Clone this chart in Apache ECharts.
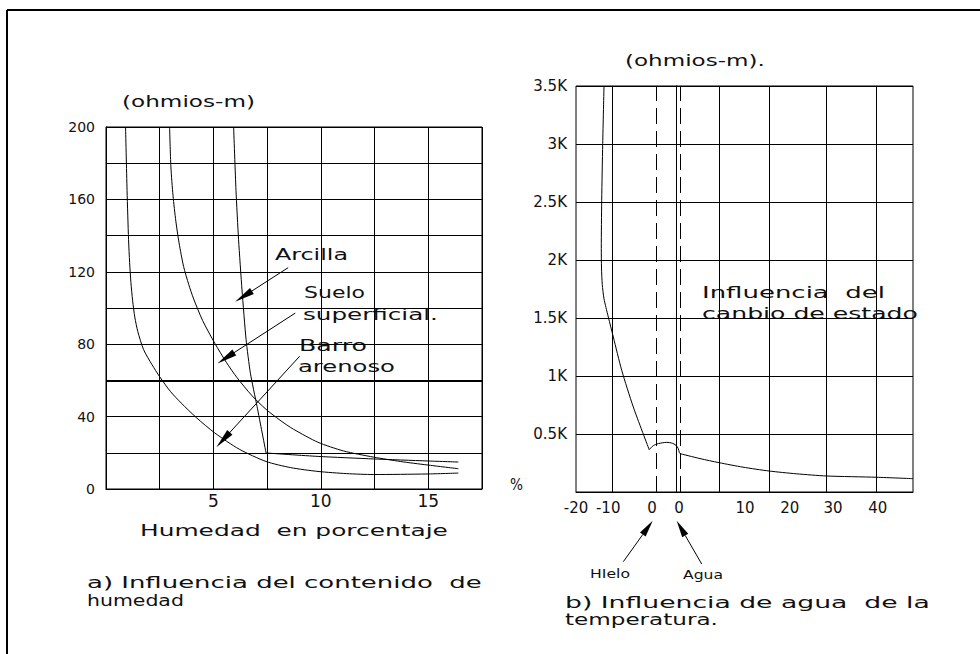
<!DOCTYPE html>
<html>
<head>
<meta charset="utf-8">
<script src="https://cdn.jsdelivr.net/npm/echarts@6/dist/echarts.min.js"></script>
<style>
  html, body { margin: 0; padding: 0; background: #fff; }
  #chart { width: 980px; height: 654px; }
</style>
</head>
<body>
<div id="chart"></div>
<script>
// ---------- a) Resistividad frente a humedad (%) ----------
const arcillaSteep = [[5.94, 200], [6.05, 165], [6.17, 137.7], [6.33, 110], [6.52, 82.5], [6.72, 64], [7.03, 45.6], [7.26, 31.5], [7.45, 19.9]];
const arcillaFlat = [[7.45, 19.9], [9.87, 18], [12.46, 16.6], [14.94, 15.5], [16.4, 14.9]];
const sueloSuperficial = [[2.96, 200], [3.02, 178], [3.12, 162], [3.25, 148], [3.4, 136], [3.61, 123], [3.85, 113], [4.08, 105], [4.5, 93], [5.06, 80.6], [5.6, 70], [6.1, 61.5], [6.8, 51.5], [7.45, 44], [8.1, 38], [8.73, 33], [9.87, 25.8], [11.06, 21], [12.46, 17.6], [13.7, 15.2], [14.94, 13.3], [16.4, 11.2]];
const barroArenoso = [[0.91, 200], [0.98, 165], [1.05, 137.7], [1.1, 125], [1.16, 114], [1.24, 104], [1.34, 95], [1.48, 87], [1.75, 77], [2.14, 68.7], [2.5, 62], [2.99, 54], [3.5, 47.5], [4.2, 39.5], [5.06, 31], [6.2, 22], [7.45, 15.2], [8.6, 11.8], [9.87, 9.7], [11.2, 8.5], [12.46, 8.0], [14.94, 8.3], [16.4, 8.8]];
const humedadLabels = [5, 10, 15];
const resistLabelStep = 40;

// ---------- b) Resistividad frente a temperatura ----------
const tempIce = [[-14.43, 3500], [-14.69, 3003], [-14.89, 2515], [-14.97, 2100], [-14.93, 1930], [-14.78, 1790], [-14.45, 1670], [-14.04, 1590], [-13.58, 1509], [-12.58, 1336], [-10.91, 1049], [-8.61, 733], [-5.45, 365]];
const tempThaw = [[-5.45, 365], [-4.63, 400], [-3.64, 417], [-1.97, 428], [-0.97, 422], [-0.12, 403], [0.34, 374], [0.54, 340], [0.68, 331]];
const tempWater = [[0.68, 331], [4.65, 288], [8.43, 253], [13.2, 214], [18.37, 181], [23.8, 157], [29.84, 138], [39.78, 127], [47, 115]];
const tempGridLines = [-12.7, 8.43, 18.37, 29.84, 39.78];
const phaseLines = [-3.96, 0.68];           // hielo / agua
const tempLabelPos = [-20, -13.6, -4.9, 0.48, 13.6, 22.5, 31.1, 40.0];
const tempLabelText = ['-20', '-10', '0', '0', '10', '20', '30', '40'];

const FONT = '"DejaVu Sans", sans-serif';
const INK = '#000';
const TEXT_INK = '#111';

// wide drafting-style lettering: stretch each string to its width on the sheet
const measureCtx = document.createElement('canvas').getContext('2d');
function wideText(str, left, midY, width, size) {
  measureCtx.font = size + 'px ' + FONT;
  const w = measureCtx.measureText(str).width;
  return {
    type: 'text', x: left, y: midY, scaleX: width / w, silent: true,
    style: { text: str, fill: TEXT_INK, fontSize: size, fontFamily: FONT, textAlign: 'left', textVerticalAlign: 'middle' }
  };
}
// leader line with a long narrow arrowhead at (x2, y2)
function leader(x1, y1, x2, y2) {
  const dx = x2 - x1, dy = y2 - y1, len = Math.hypot(dx, dy);
  const ux = dx / len, uy = dy / len, head = 17, half = 3.5;
  const bx = x2 - ux * head, by = y2 - uy * head;
  return [
    { type: 'line', silent: true, shape: { x1, y1, x2: bx, y2: by }, style: { stroke: INK, lineWidth: 1 } },
    { type: 'polygon', silent: true, shape: { points: [[x2, y2], [bx - uy * half, by + ux * half], [bx + uy * half, by - ux * half]] }, style: { fill: INK } }
  ];
}

const curveStyle = { color: INK, width: 1 };
function curve(data, gi, extra) {
  return Object.assign({
    type: 'line', data, xAxisIndex: gi, yAxisIndex: gi, showSymbol: false,
    smooth: 0.25, silent: true, animation: false, lineStyle: curveStyle, itemStyle: { color: INK }
  }, extra || {});
}

const arrowEnd = (from, to) => [
  { coord: from, symbol: 'none' },
  { coord: to, symbol: 'triangle', symbolSize: [7, 20] }
];

const option = {
  animation: false,
  backgroundColor: '#fff',
  grid: [
    { left: 106, top: 127, width: 376, height: 362, show: true, borderColor: INK, borderWidth: 1 },
    { left: 576, top: 86, width: 337, height: 406, show: true, borderColor: INK, borderWidth: 1 }
  ],
  xAxis: [
    {
      gridIndex: 0, type: 'value', min: 0, max: 17.5, interval: 2.5,
      axisLine: { lineStyle: { color: INK } }, axisTick: { show: false },
      splitLine: { show: true, lineStyle: { color: INK, width: 1 } },
      axisLabel: {
        color: TEXT_INK, fontFamily: FONT, fontSize: 17, margin: 3,
        formatter: v => humedadLabels.includes(v) ? String(v) : ''
      }
    },
    {
      gridIndex: 1, type: 'value', min: -20, max: 47,
      axisLine: { lineStyle: { color: INK } }, axisTick: { show: false },
      splitLine: { show: false },
      axisLabel: {
        color: TEXT_INK, fontFamily: FONT, fontSize: 15, margin: 8,
        showMinLabel: true, showMaxLabel: true, hideOverlap: false,
        customValues: tempLabelPos,
        formatter: v => {
          const i = tempLabelPos.indexOf(v);
          return i >= 0 ? tempLabelText[i] : '';
        }
      }
    }
  ],
  yAxis: [
    {
      gridIndex: 0, type: 'value', min: 0, max: 200, interval: 20,
      axisLine: { show: true, lineStyle: { color: INK } }, axisTick: { show: false },
      splitLine: { show: true, lineStyle: { color: INK, width: 1 } },
      axisLabel: {
        color: TEXT_INK, fontFamily: FONT, fontSize: 14, margin: 11,
        formatter: v => v % resistLabelStep === 0 ? String(v) : ''
      }
    },
    {
      gridIndex: 1, type: 'value', min: 0, max: 3500, interval: 500,
      axisLine: { show: true, lineStyle: { color: INK } }, axisTick: { show: false },
      splitLine: { show: true, lineStyle: { color: INK, width: 1 } },
      axisLabel: {
        color: TEXT_INK, fontFamily: FONT, fontSize: 15, margin: 9,
        formatter: v => v === 0 ? '' : (v / 1000) + 'K'
      }
    }
  ],
  series: [
    curve(arcillaSteep, 0, { smooth: 0.2 }),
    curve(arcillaFlat, 0, { smooth: 0.2 }),
    curve(sueloSuperficial, 0, {
      markLine: {
        silent: true, animation: false, symbol: ['none', 'triangle'], symbolSize: 18,
        label: { show: false }, lineStyle: { color: INK, width: 1, type: 'solid' },
        data: [
          arrowEnd([8.48, 122.3], [6.4, 106.4]),
          arrowEnd([8.81, 97.2], [5.58, 72.4]),
          arrowEnd([9.01, 73.3], [5.45, 27.2])
        ]
      }
    }),
    curve(barroArenoso, 0, {
      markLine: {
        silent: true, animation: false, symbol: ['none', 'none'],
        label: { show: false }, lineStyle: { color: INK, width: 2, type: 'solid' },
        data: [{ yAxis: 60 }]
      }
    }),
    curve(tempIce, 1),
    curve(tempThaw, 1),
    curve(tempWater, 1, {
      markLine: {
        silent: true, animation: false, symbol: ['none', 'none'],
        label: { show: false }, lineStyle: { color: INK, width: 1, type: 'solid' },
        data: tempGridLines.map(v => ({ xAxis: v }))
          .concat(phaseLines.map(v => ({ xAxis: v, lineStyle: { type: [16, 7], color: INK, width: 1 } })))
      }
    })
  ],
  graphic: [
    // sheet frame
    { type: 'line', silent: true, shape: { x1: 7, y1: 10, x2: 980, y2: 10 }, style: { stroke: INK, lineWidth: 2 } },
    { type: 'line', silent: true, shape: { x1: 7, y1: 10, x2: 7, y2: 654 }, style: { stroke: INK, lineWidth: 2 } },

    wideText('(ohmios-m)', 122, 102, 133, 15),
    wideText('Arcilla', 275, 255, 73, 15),
    wideText('Suelo', 304, 293, 61, 15),
    wideText('superficial.', 303, 315, 135, 15),
    wideText('Barro', 299, 346, 68, 15),
    wideText('arenoso', 298, 367, 97, 15),
    wideText('Humedad\u00a0 en porcentaje', 140, 531, 308, 15),
    wideText('a) Influencia del contenido\u00a0 de', 87, 583, 395, 15),
    wideText('humedad', 87, 601, 97, 15),

    wideText('(ohmios-m).', 625, 61, 140, 15),
    wideText('Influencia\u00a0 del', 702, 293, 183, 15),
    wideText('canbio de estado', 702, 314, 216, 15),
    wideText('%', 510, 485, 13, 15),
    wideText('HIelo', 590, 573, 40, 13),
    wideText('Agua', 683, 574, 40, 13),
    wideText('b) Influencia de agua\u00a0 de la', 565, 603, 365, 15),
    wideText('temperatura.', 565, 620, 153, 15),

    ...leader(623.3, 561.7, 652.7, 520.7),
    ...leader(701.7, 564, 676.7, 520.7)
  ]
};

const chart = echarts.init(document.getElementById('chart'), null, { renderer: 'svg' });
chart.setOption(option);
</script>
</body>
</html>
